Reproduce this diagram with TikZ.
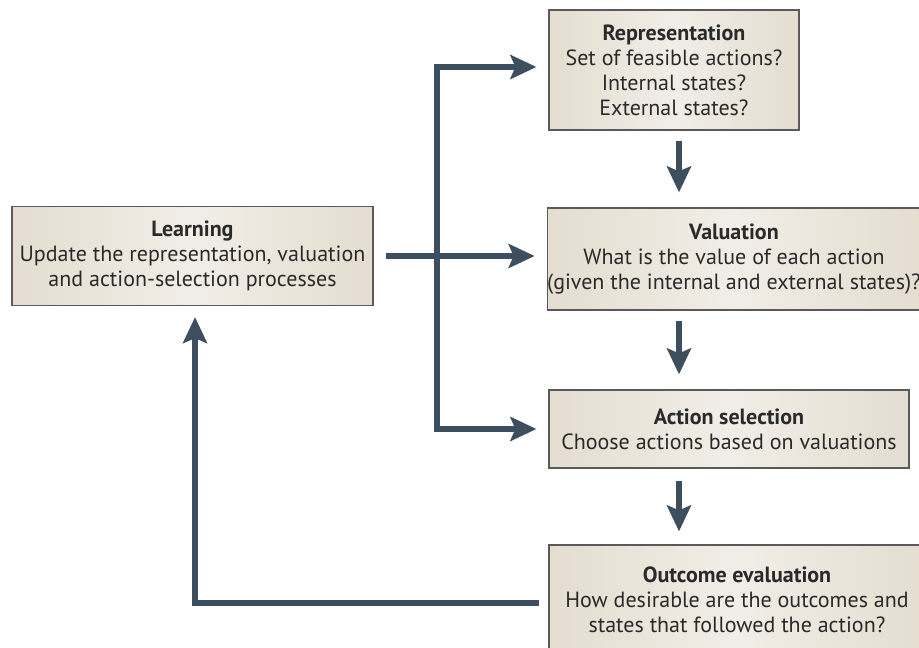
\documentclass[tikz,border=0pt]{standalone}
\usepackage{fontspec}
\setmainfont{PT Sans}
\usetikzlibrary{arrows.meta,calc}
\definecolor{arrowc}{HTML}{3D4E5E}
\definecolor{boxedge}{HTML}{E4DDD0}
\definecolor{boxmid}{HTML}{F1EEE7}
\definecolor{boxline}{HTML}{5A5A5A}
\definecolor{txt}{HTML}{2A2A2A}
\tikzset{
  box/.style={draw=boxline, line width=1.2pt, left color=boxedge, right color=boxedge, middle color=boxmid,
    align=center, text=txt, inner sep=0pt, font=\fontsize{22}{25}\selectfont},
  arr/.style={draw=arrowc, line width=6pt, line join=miter,
    -{Stealth[length=26pt, width=24pt, inset=5pt]}},
}
\begin{document}
\begin{tikzpicture}[x=1pt,y=-1pt]
\useasboundingbox (0,0) rectangle (919,648);
\clip (0,0) rectangle (919,648);
\fill[white] (0,0) rectangle (919,648);
\node[box, minimum width=250pt, minimum height=120pt] (rep) at (674,70)
  {\textbf{Representation}\\Set of feasible actions?\\Internal states?\\External states?};
\node[box, minimum width=361pt, minimum height=99pt] (learn) at (192.5,256)
  {\textbf{Learning}\\Update the representation, valuation\\and action-selection processes};
\node[box, minimum width=370pt, minimum height=102pt] (val) at (734,259)
  {\textbf{Valuation}\\What is the value of each action\\(given the internal and external states)?};
\node[box, minimum width=360pt, minimum height=78pt] (as) at (729,429)
  {\textbf{Action selection}\\Choose actions based on valuations};
\node[box, minimum width=376pt, minimum height=110pt] (out) at (737,600)
  {\textbf{Outcome evaluation}\\How desirable are the outcomes and\\states that followed the action?};
% bus
\coordinate (bT) at (437,67);
\coordinate (bB) at (437,430);
\coordinate (col) at (679,0);
\coordinate (fbY) at (0,603);
\coordinate (fbX) at (195,0);
\draw[arr, shorten >=12pt] (bB) -- (bT) -- (bT -| rep.west);
\draw[arr, shorten >=12pt] (bT) |- (as.west);
\draw[arr, shorten <=12pt, shorten >=12pt] (learn.east) -- (learn.east -| val.west);
\draw[arr, shorten <=10pt, shorten >=15pt] (rep.south -| col) -- (val.north -| col);
\draw[arr, shorten <=10pt, shorten >=15pt] (val.south -| col) -- (as.north -| col);
\draw[arr, shorten <=12pt, shorten >=13pt] (as.south -| col) -- (out.north -| col);
\draw[arr, shorten <=9pt, shorten >=11pt] (out.west |- fbY) -| (learn.south -| fbX);
\end{tikzpicture}
\end{document}
